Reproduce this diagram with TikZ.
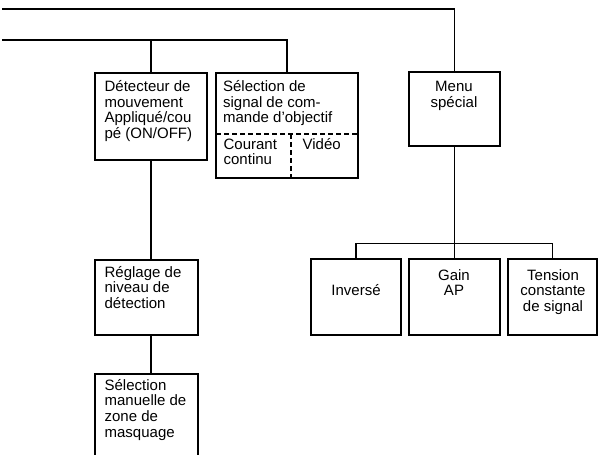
\documentclass[tikz,border=0pt]{standalone}
\usepackage{fontspec}
\setmainfont{Liberation Sans}
\usetikzlibrary{fit}
\begin{document}
\begin{tikzpicture}[x=1pt,y=-1pt,line width=1.3pt,
  box/.style={draw,inner sep=0pt,fit={#1}},
  txt/.style={inner sep=0pt,font=\fontsize{15}{15.7}\selectfont,align=left,anchor=base west},
  ctxt/.style={inner sep=0pt,font=\fontsize{15}{15.7}\selectfont,align=center,anchor=base},
  dashline/.style={dashed,dash pattern=on 5pt off 3pt,line width=1.1pt}]
\useasboundingbox (0,0) rectangle (598,455);
% boxes
\node[box={(95,73) (207,160)}] (det) {};
\node[box={(216,73) (358,178)}] (sel) {};
\node[box={(409,72) (500,146)}] (menu) {};
\node[box={(95,260) (198,335)}] (reg) {};
\node[box={(95,374) (198,470)}] (man) {};
\node[box={(311,259) (401,335)}] (inv) {};
\node[box={(409,259) (500,335)}] (gain) {};
\node[box={(508,259) (597,335)}] (ten) {};
% dashed subdivisions
\coordinate (sl) at (216,134);
\coordinate (sr) at (358,134);
\coordinate (sm) at (291,134);
\draw[dashline] (sl) -- (sr);
\draw[dashline] (sm) -- (sm |- sel.south);
% texts (anchored at the baseline of the last line)
\node[txt] (tdet) at (104,138.6) {Détecteur de\\mouvement\\Appliqué/cou\\pé (ON/OFF)};
\node[txt] (tsel) at (222.5,122.9) {Sélection de\\signal de com-\\mande d'objectif};
\node[txt] (tcc) at (223,164.7) {Courant\\continu};
\node[txt] (tvid) at (302,149) {Vidéo};
\node[ctxt] (tmenu) at (454,107.2) {Menu\\spécial};
\node[txt] (treg) at (104,308.4) {Réglage de\\niveau de\\détection};
\node[txt] (tman) at (104,437.1) {Sélection\\manuelle de\\zone de\\masquage};
\node[ctxt] (tinv) at (356,295) {Inversé};
\node[ctxt] (tgain) at (454,295.7) {Gain\\AP};
\node[ctxt] (tten) at (553,311.4) {Tension\\constante\\de signal};
% connectors
\coordinate (l1) at (2,9);
\coordinate (l2) at (2,40);
\draw (l1) -| (menu.north);
\draw (l2) -| (sel.north);
\draw (det.north) -- (det.north |- l2);
\draw (det.south) -- (det.south |- reg.north);
\draw (det.south |- reg.south) -- (det.south |- man.north);
\draw (menu.south) -- (gain.north);
\draw (inv.north) -- ++(0,-15) -| (ten.north);
\end{tikzpicture}
\end{document}
